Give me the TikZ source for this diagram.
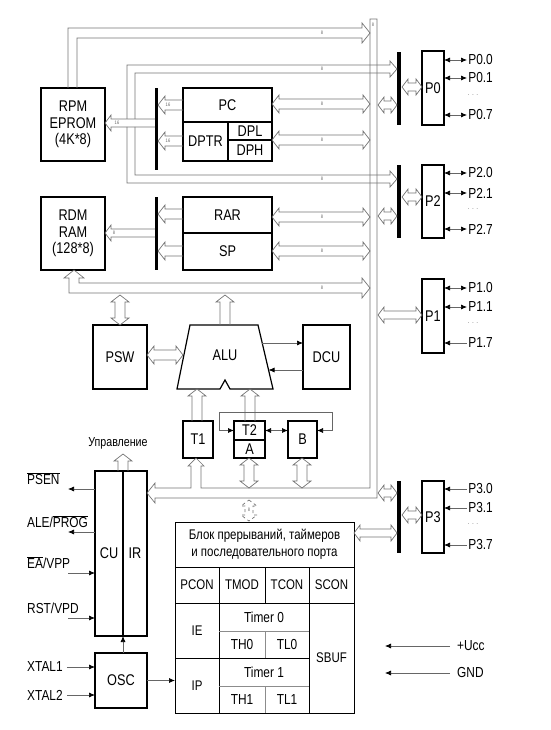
\documentclass[tikz,border=0pt]{standalone}
\usepackage{fontspec}
\setmainfont{Liberation Sans}[FakeStretch=0.82]
\usetikzlibrary{arrows.meta}
\tikzset{>={Latex[length=6pt,width=5pt,color=black]}}
\tikzset{
  box/.style={draw, line width=1.2pt, inner sep=0pt, outer sep=0pt, anchor=north west,
    align=center, font=\fontsize{15.5}{16.5}\selectfont},
  cell/.style={box, line width=1pt, font=\fontsize{14}{17.5}\selectfont},
  latch/.style={fill=black, draw=none, inner sep=0pt, outer sep=0pt, anchor=north west},
  bus/.style={draw=black!55, line width=0.7pt, line join=miter},
  sig/.style={draw=black!60, line width=0.7pt},
  tag/.style={font=\fontsize{5}{5}\selectfont, text=black!60, inner sep=0pt},
  pin/.style={anchor=west, font=\fontsize{14.5}{15}\selectfont, inner sep=1pt},
  dots/.style={font=\fontsize{8}{8}\selectfont, text=black!50, inner sep=0pt},
}
% hollow bus arrows: shaft half width, head half width, head length
\newcommand{\busw}{5}
\newcommand{\bush}{9}
\newcommand{\busl}{7}
\newcommand{\busLR}[3]{\draw[bus] (#1,#3) -- (#1+\busl,#3-\bush) -- (#1+\busl,#3-\busw) -- (#2-\busl,#3-\busw) -- (#2-\busl,#3-\bush) -- (#2,#3) -- (#2-\busl,#3+\bush) -- (#2-\busl,#3+\busw) -- (#1+\busl,#3+\busw) -- (#1+\busl,#3+\bush) -- cycle;}
\newcommand{\busL}[3]{\draw[bus] (#2,#3-\busw) -- (#1+\busl,#3-\busw) -- (#1+\busl,#3-\bush) -- (#1,#3) -- (#1+\busl,#3+\bush) -- (#1+\busl,#3+\busw) -- (#2,#3+\busw);}
\newcommand{\busUD}[4][]{\draw[bus,#1] (#2,#3) -- (#2+\bush,#3+\busl) -- (#2+\busw,#3+\busl) -- (#2+\busw,#4-\busl) -- (#2+\bush,#4-\busl) -- (#2,#4) -- (#2-\bush,#4-\busl) -- (#2-\busw,#4-\busl) -- (#2-\busw,#3+\busl) -- (#2-\bush,#3+\busl) -- cycle;}
\newcommand{\busU}[3]{\draw[bus] (#1-\busw,#3) -- (#1-\busw,#2+\busl) -- (#1-\bush,#2+\busl) -- (#1,#2) -- (#1+\bush,#2+\busl) -- (#1+\busw,#2+\busl) -- (#1+\busw,#3);}

\begin{document}
\begin{tikzpicture}[x=1pt,y=-1pt]
  \useasboundingbox (0,0) rectangle (550,730);

  % memories and registers
  \node[box, minimum width=64pt, minimum height=73pt] (rpm) at (41,88) {RPM\\EPROM\\(4K*8)};
  \node[box, minimum width=64pt, minimum height=73pt] (rdm) at (41,197) {RDM\\RAM\\(128*8)};
  \node[box, minimum width=89pt, minimum height=34pt] (pc) at (183,88) {PC};
  \node[box, minimum width=45pt, minimum height=39pt] (dptr) at (183,122) {DPTR};
  \node[box, minimum width=44pt, minimum height=18pt] (dpl) at (228,122) {DPL};
  \node[box, minimum width=44pt, minimum height=21pt] (dph) at (228,140) {DPH};
  \node[box, minimum width=89pt, minimum height=36pt] (rar) at (183,197) {RAR};
  \node[box, minimum width=89pt, minimum height=37pt] (sp) at (183,233) {SP};
  \node[latch, minimum width=3pt, minimum height=82pt] (lpc) at (154.5,88) {};
  \node[latch, minimum width=3pt, minimum height=73pt] (lrar) at (154.5,197) {};

  % ALU and its neighbours
  \node[box, minimum width=54pt, minimum height=64pt] (psw) at (93,325) {PSW};
  \draw[line width=1.2pt] (190,325) -- (258,325) -- (273,389) -- (230,389) -- (225,380)
    -- (220,389) -- (177,389) -- cycle;
  \node[font=\fontsize{15.5}{16.5}\selectfont] (alu) at (225,355) {ALU};
  \node[box, minimum width=47pt, minimum height=64pt] (dcu) at (303,325) {DCU};
  \node[box, minimum width=30pt, minimum height=37pt] (t1) at (183,421) {T1};
  \node[box, minimum width=31pt, minimum height=19pt] (t2) at (234,421) {T2};
  \node[box, minimum width=31pt, minimum height=18pt] (a) at (234,440) {A};
  \node[box, minimum width=29pt, minimum height=37pt] (b) at (288,421) {B};

  % control unit
  \node[box, minimum width=28pt, minimum height=165pt] (cu) at (95,471) {CU};
  \node[box, minimum width=24pt, minimum height=165pt] (ir) at (123,471) {IR};
  \node[box, minimum width=52pt, minimum height=55pt] (osc) at (95,653) {OSC};
  \node[font=\fontsize{13}{14}\selectfont] (upr) at (118,443) {Управление};

  % interrupts, timers, serial port
  \node[cell, minimum width=179pt, minimum height=45pt] (blk) at (175,522)
    {Блок прерываний, таймеров\\и последовательного порта};
  \node[cell, minimum width=44pt, minimum height=36pt] (pcon) at (175,567) {PCON};
  \node[cell, minimum width=46pt, minimum height=36pt] (tmod) at (219,567) {TMOD};
  \node[cell, minimum width=44pt, minimum height=36pt] (tcon) at (265,567) {TCON};
  \node[cell, minimum width=45pt, minimum height=36pt] (scon) at (309,567) {SCON};
  \node[cell, minimum width=44pt, minimum height=55pt] (ie) at (175,603) {IE};
  \node[cell, minimum width=44pt, minimum height=55pt] (ip) at (175,658) {IP};
  \node[cell, minimum width=45pt, minimum height=110pt] (sbuf) at (309,603) {SBUF};
  \node[cell, minimum width=90pt, minimum height=55pt] (tm0) at (219,603) {};
  \node[cell, minimum width=90pt, minimum height=55pt] (tm1) at (219,658) {};
  \draw[black!45, line width=0.8pt] (219,631) -- (309,631) (265,631) -- (265,658)
    (219,686) -- (309,686) (265,686) -- (265,713);
  \node[pin, anchor=center] (tim0) at (264,617) {Timer 0};
  \node[pin, anchor=center] (th0) at (242,645) {TH0};
  \node[pin, anchor=center] (tl0) at (287,645) {TL0};
  \node[pin, anchor=center] (tim1) at (264,672) {Timer 1};
  \node[pin, anchor=center] (th1) at (242,700) {TH1};
  \node[pin, anchor=center] (tl1) at (287,700) {TL1};

  % ports
  \node[box, minimum width=22pt, minimum height=74pt] (p0) at (422,51) {P0};
  \node[box, minimum width=22pt, minimum height=73pt] (p2) at (422,165) {P2};
  \node[box, minimum width=22pt, minimum height=74pt] (p1) at (422,279) {P1};
  \node[box, minimum width=22pt, minimum height=72pt] (p3) at (422,481) {P3};
  \node[latch, minimum width=4pt, minimum height=73pt] (l0) at (397,52) {};
  \node[latch, minimum width=4pt, minimum height=73pt] (l2) at (397,165) {};
  \node[latch, minimum width=4pt, minimum height=72pt] (l3) at (397,481) {};
  \foreach \y/\t [count=\i] in {60/P0.0, 78/P0.1, 115/P0.7, 173/P2.0, 193/P2.1, 229/P2.7, 288/P1.0, 307/P1.1}
    \draw[sig,<->] (p0.east |- 0,\y) -- ++(23,0) node[pin] (pa\i) {\t};
  \foreach \y/\t [count=\i] in {343/P1.7, 489/P3.0, 508/P3.1, 545/P3.7}
    \draw[sig,<-] (p0.east |- 0,\y) -- ++(23,0) node[pin] (pb\i) {\t};
  \foreach \y [count=\i] in {95,209,323,524}
    \node[dots] (dd\i) at (473,\y) {. . .};

  % main bus
  \draw[bus] (370,19) -- (370,488) -- (201,488) -- (201,466) -- (204,466) -- (196,458)
    -- (188,466) -- (191,466) -- (191,488) -- (155,488) -- (155,483) -- (147,493)
    -- (155,503) -- (155,498) -- (377,498) -- (377,19) -- cycle;
  \draw[bus] (68,88) -- (68,28) -- (362,28) -- (362,23) -- (370,33) -- (362,43)
    -- (362,38) -- (77,38) -- (77,88);
  \draw[bus] (362,293) -- (69,293) -- (69,278) -- (64,278) -- (74,270) -- (84,278)
    -- (79,278) -- (79,283) -- (362,283) -- (362,278) -- (370,288) -- (362,298) -- cycle;
  \draw[bus] (127,119) -- (127,65) -- (390,65) -- (390,61) -- (397,69) -- (390,77)
    -- (390,73) -- (135,73) -- (135,119);
  \draw[bus] (127,127) -- (127,183) -- (390,183) -- (390,187) -- (397,179) -- (390,171)
    -- (390,175) -- (135,175) -- (135,127);

  \busLR{272}{370}{104}
  \busLR{272}{370}{140}
  \busLR{272}{370}{217}
  \busLR{272}{370}{251}
  \busL{158}{183}{105}
  \busL{158}{183}{141}
  \busL{158}{183}{214}
  \busL{158}{183}{251}
  \busUD{120}{295}{325}
  \busU{225}{295}{325}
  \busLR{147}{183}{355}
  \busU{197}{389}{421}
  \busU{250}{389}{421}
  \busUD{249}{458}{488}
  \busUD{302}{458}{488}
  \busU{123}{454}{471}
  \renewcommand{\busw}{4}
  \renewcommand{\bush}{8}
  \renewcommand{\busl}{6}
  \busL{105}{155}{123}
  \busL{105}{155}{233}
  \busUD[dashed]{249}{500}{521}
  \busLR{402}{422}{87}
  \busLR{378}{397}{105}
  \busLR{402}{422}{197}
  \busLR{378}{397}{216}
  \busLR{378}{422}{315}
  \busLR{378}{397}{493}
  \busLR{402}{422}{515}
  \busLR{354}{397}{533}

  % bus widths
  \foreach \y in {33,69,104,140,179,217,251,288}
    \node[tag] at (322,\y) {8};
  \node[tag] at (373,25) {8};
  \node[tag] at (249,510) {8};
  \node[tag] at (114,233) {8};
  \node[tag] at (117,123) {16};
  \node[tag] at (168,105) {16};
  \node[tag] at (168,141) {16};

  % thin connections
  \coordinate (alur1) at (262,343);
  \coordinate (alur2) at (268.5,370);
  \draw[sig,->] (alur1) -- (alur1 -| dcu.west);
  \draw[sig,->] (alur2 -| dcu.west) -- (alur2);
  \draw[sig,<->] (t2.east) -- (t2.east -| b.west);
  \draw[sig,<->] (t2.west) -- ++(-15,0) |- (332,412) |- (t2.west -| b.east);
  \draw[sig,->] (osc.north -| cu.south east) -- (cu.south east);
  \draw[sig,->] (osc.east) -- (osc.east -| ip.west);

  % external signals
  \node[pin] (psen) at (26,479) {$\overline{\hbox{PSEN}}$};
  \node[pin] (ale) at (26,522) {ALE/$\overline{\hbox{PROG}}$};
  \node[pin] (ea) at (26,563) {$\overline{\hbox{EA}}$/VPP};
  \node[pin] (rst) at (26,608) {RST/VPD};
  \node[pin] (xt1) at (26,667) {XTAL1};
  \node[pin] (xt2) at (26,695) {XTAL2};
  \draw[sig,->] (cu.west |- 0,489) -- (68,489);
  \draw[sig,->] (cu.west |- 0,532) -- (68,532);
  \draw[sig,->] (68,573) -- (cu.west |- 0,573);
  \draw[sig,->] (68,618) -- (cu.west |- 0,618);
  \draw[sig,->] ([xshift=3pt]xt1.east) -- (osc.west |- xt1.east);
  \draw[sig,->] ([xshift=3pt]xt2.east) -- (osc.west |- xt2.east);
  \node[pin] (ucc) at (456,646) {+Ucc};
  \node[pin] (gnd) at (456,673) {GND};
  \draw[sig,->] ([xshift=-6pt]ucc.west) -- ++(-65,0);
  \draw[sig,->] ([xshift=-6pt]gnd.west) -- ++(-65,0);
\end{tikzpicture}
\end{document}
